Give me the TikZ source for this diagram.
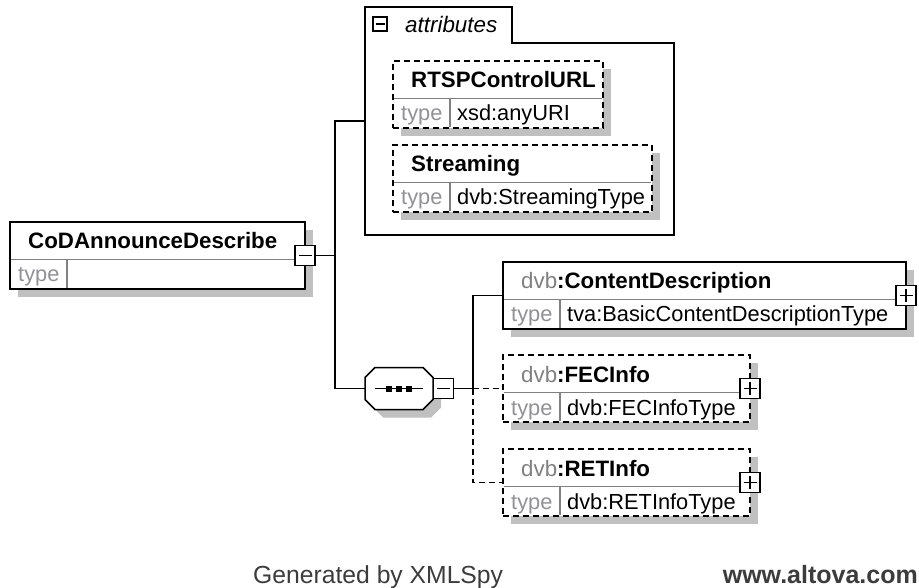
\documentclass[tikz,border=0pt]{standalone}
\usepackage{fontspec}
\setmainfont{Liberation Sans}
\usetikzlibrary{calc}
\definecolor{shadowc}{RGB}{192,192,192}
\definecolor{typec}{RGB}{145,145,150}
\definecolor{pfxc}{RGB}{128,128,128}
\definecolor{divc}{RGB}{128,128,128}
\definecolor{footc}{RGB}{60,60,60}
\tikzset{
  conn/.style={line width=1.5pt, black},
  frame/.style={line width=1.5pt, black},
  elemdash/.style={dash pattern=on 6pt off 4pt},
  elembox/.style={draw, line width=1.5pt, fill=white, inner sep=0pt, outer sep=0pt},
  divline/.style={line width=1.2pt, divc},
  titletext/.style={anchor=base west, inner sep=0pt, font=\fontsize{22.3}{26}\selectfont\bfseries},
  typelbl/.style={anchor=base west, inner sep=0pt, text=typec, font=\fontsize{21.8}{26}\selectfont},
  typetext/.style={anchor=base west, inner sep=0pt, font=\fontsize{21.8}{26}\selectfont},
  signbox/.style={draw, line width=1.5pt, fill=white, minimum size=20pt, inner sep=0pt, outer sep=0pt},
  signline/.style={line width=1.4pt},
  foot/.style={inner sep=0pt, text=footc}
}
\newcommand\pfx[1]{{\mdseries\color{pfxc}#1}}
\newcommand\xelem[7]{%
  \fill[shadowc] (#2+8,#3+8) rectangle (#4+8,#3+75);
  \node[elembox,#5,minimum width=#4-#2,minimum height=67,anchor=north west] (#1) at (#2,#3) {};
  \draw[divline] ($(#1.north west)+(0.7,37.5)$) -- ($(#1.north east)+(-0.7,37.5)$);
  \draw[divline] ($(#1.north west)+(57,37.5)$) -- ($(#1.south west)+(57,-0.7)$);
  \node[titletext] (#1T) at ($(#1.north west)+(18,27)$) {#6};
  \node[typelbl] (#1L) at ($(#1.north west)+(8,60)$) {type};
  \node[typetext] (#1V) at ($(#1.north west)+(64,60)$) {#7};
}
\newcommand\xminus[2]{%
  \node[signbox] (#1) at (#2) {};
  \draw[signline] ($(#1.center)+(-6.5,0)$) -- ($(#1.center)+(6.5,0)$);
}
\newcommand\xplus[2]{%
  \node[signbox] (#1) at (#2) {};
  \draw[signline] ($(#1.center)+(-6.5,0)$) -- ($(#1.center)+(6.5,0)$);
  \draw[signline] ($(#1.center)+(0,-6.5)$) -- ($(#1.center)+(0,6.5)$);
}
\newcommand\octpath[2]{(#1-34,#2-11) -- (#1-24,#2-21) -- (#1+24,#2-21) -- (#1+34,#2-11) -- (#1+34,#2+11) -- (#1+24,#2+21) -- (#1-24,#2+21) -- (#1-34,#2+11) -- cycle}
\begin{document}
\begin{tikzpicture}[x=1pt,y=-1pt]
\fill[white] (0,0) rectangle (919,588);
\useasboundingbox (0,0) rectangle (919,588);

% attributes group
\node[inner sep=0pt, outer sep=0pt, minimum width=309, minimum height=228, anchor=north west] (attr) at (365,7) {};
\draw[frame] (365,7) -- (512,7) -- (512,43) -- (674,43) -- (674,235) -- (365,235) -- cycle;
\node[signbox, minimum size=14pt] (attrS) at (380,24) {};
\draw[signline] ($(attrS.center)+(-4.5,0)$) -- ($(attrS.center)+(4.5,0)$);
\node[anchor=base west, inner sep=0pt, font=\fontsize{22.4}{26}\selectfont\itshape] (attrT) at (405,33) {attributes};

\xelem{rtsp}{393}{61}{603}{elemdash}{RTSPControlURL}{xsd:anyURI}
\xelem{strm}{393}{145}{652}{elemdash}{Streaming}{dvb:StreamingType}

% root element
\xelem{cod}{10}{222}{305}{}{CoDAnnounceDescribe}{}
\xminus{codS}{cod.east}

% sequence compositor
\fill[shadowc] \octpath{407}{396.5};
\draw[frame, fill=white] \octpath{399}{388.5};
\node[inner sep=0pt, outer sep=0pt, minimum width=68, minimum height=42] (seq) at (399,388.5) {};
\draw[signline] (375,388.5) -- (423,388.5);
\fill (386,385.5) rectangle (392,391.5);
\fill (396,385.5) rectangle (402,391.5);
\fill (406,385.5) rectangle (412,391.5);
\xminus{seqS}{443.5,388.5}

% child elements
\xelem{cont}{503}{262}{906}{}{\pfx{dvb}:ContentDescription}{tva:BasicContentDescriptionType}
\xplus{contS}{cont.east}
\xelem{fec}{503}{355}{750}{elemdash}{\pfx{dvb}:FECInfo}{dvb:FECInfoType}
\xplus{fecS}{fec.east}
\xelem{ret}{503}{449}{750}{elemdash}{\pfx{dvb}:RETInfo}{dvb:RETInfoType}
\xplus{retS}{ret.east}

% connectors
\coordinate (bus) at (335,255.5);
\draw[conn] (codS.east) -- (bus);
\draw[conn] (attr.west) -| (bus) |- (seq.west);
\coordinate (bus2) at (473,388.5);
\draw[conn] (seqS.east) -- (bus2) |- (cont.west);
\draw[conn, elemdash] (bus2) -- (fec.west);
\draw[conn, elemdash] (bus2) |- (ret.west);

% footer
\node[foot, anchor=base west, font=\fontsize{24.7}{28}\selectfont] (gen) at (253,583) {Generated by XMLSpy};
\node[foot, anchor=base east, font=\fontsize{25}{28}\selectfont\bfseries] (alt) at (918,583) {www.altova.com};
\end{tikzpicture}
\end{document}
